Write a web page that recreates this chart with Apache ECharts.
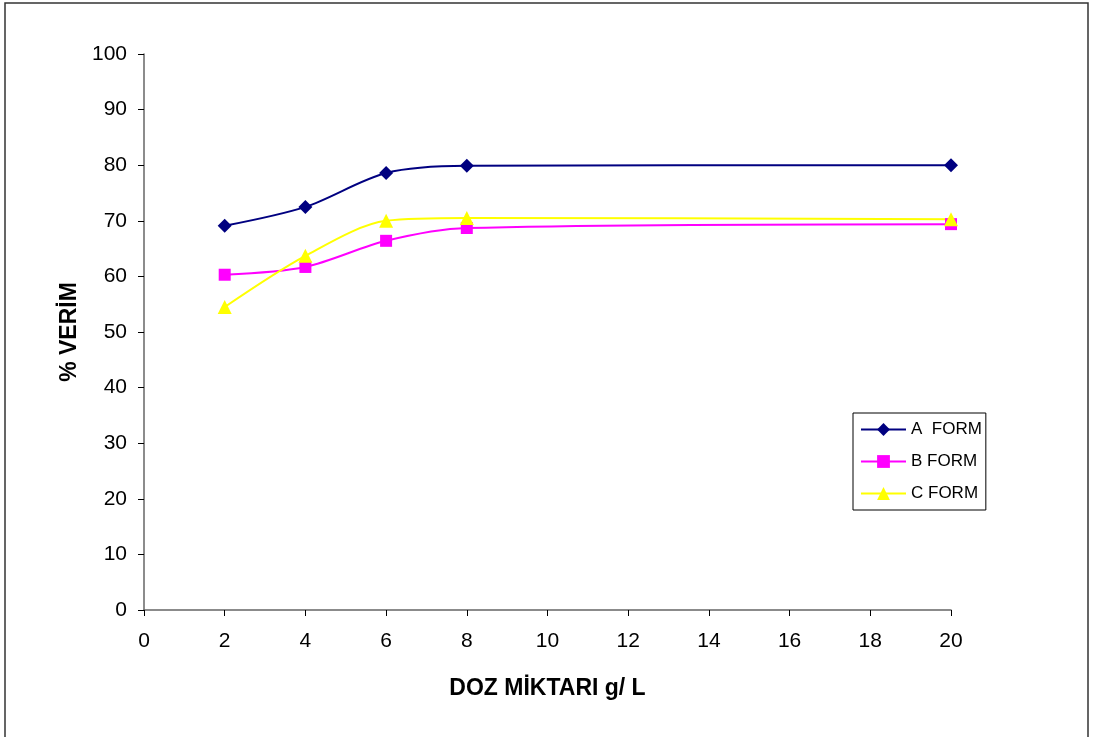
<!DOCTYPE html>
<html>
<head>
<meta charset="utf-8">
<script src="https://cdn.jsdelivr.net/npm/echarts@6/dist/echarts.min.js"></script>
<style>
html,body{margin:0;padding:0;background:#fff;}
#c{width:1097px;height:737px;}
</style>
</head>
<body>
<div id="c"></div>
<script>
const doses = [2, 4, 6, 8, 20];
const formA = [69.1, 72.5, 78.6, 79.9, 80.0];
const formB = [60.3, 61.7, 66.4, 68.7, 69.4];
const formC = [54.5, 63.7, 70.0, 70.5, 70.3];
const seriesNames = ['A  FORM', 'B FORM', 'C FORM'];

const pair = (xs, ys) => xs.map((x, i) => [x, ys[i]]);
const font = 'Liberation Sans, Arial, sans-serif';

const chart = echarts.init(document.getElementById('c'), null, {renderer: 'canvas'});
chart.setOption({
  backgroundColor: '#ffffff',
  animation: false,
  textStyle: {fontFamily: font},
  graphic: [{
    type: 'rect',
    shape: {x: 5, y: 3, width: 1083, height: 740},
    style: {fill: 'none', stroke: '#333', lineWidth: 1.5},
    silent: true
  }],
  grid: {left: 144, top: 54, right: 146, bottom: 127},
  legend: {
    orient: 'vertical',
    left: 853, top: 413,
    padding: [8, 4, 8, 7],
    itemWidth: 45, itemHeight: 16, itemGap: 15,
    borderColor: '#000', borderWidth: 1,
    textStyle: {fontFamily: font, fontSize: 17, color: '#000'},
    data: seriesNames
  },
  xAxis: {
    type: 'value', min: 0, max: 20, interval: 2,
    name: 'DOZ MİKTARI g/ L', nameLocation: 'middle', nameGap: 67,
    nameTextStyle: {fontFamily: font, fontSize: 23, fontWeight: 'bold', color: '#000'},
    axisLine: {show: true, lineStyle: {color: '#666', width: 1.5}},
    axisTick: {show: true, inside: false, length: 6, lineStyle: {color: '#000'}},
    axisLabel: {fontFamily: font, fontSize: 21, color: '#000', margin: 21},
    splitLine: {show: false}
  },
  yAxis: {
    type: 'value', min: 0, max: 100, interval: 10,
    name: '% VERİM', nameLocation: 'middle', nameGap: 62,
    nameTextStyle: {fontFamily: font, fontSize: 23, fontWeight: 'bold', color: '#000'},
    axisLine: {show: true, lineStyle: {color: '#666', width: 1.5}},
    axisTick: {show: true, inside: false, length: 6, lineStyle: {color: '#000'}},
    axisLabel: {fontFamily: font, fontSize: 21, color: '#000', margin: 17},
    splitLine: {show: false}
  },
  series: [
    {
      name: seriesNames[0], type: 'line', data: pair(doses, formA),
      smooth: 0.3, symbol: 'diamond', symbolSize: 14,
      itemStyle: {color: '#000080'}, lineStyle: {color: '#000080', width: 2}
    },
    {
      name: seriesNames[1], type: 'line', data: pair(doses, formB),
      smooth: 0.3, symbol: 'rect', symbolSize: 12,
      itemStyle: {color: '#FF00FF'}, lineStyle: {color: '#FF00FF', width: 2}
    },
    {
      name: seriesNames[2], type: 'line', data: pair(doses, formC),
      smooth: 0.3, symbol: 'triangle', symbolSize: 14,
      itemStyle: {color: '#FFFF00'}, lineStyle: {color: '#FFFF00', width: 2}
    }
  ]
});
</script>
</body>
</html>
